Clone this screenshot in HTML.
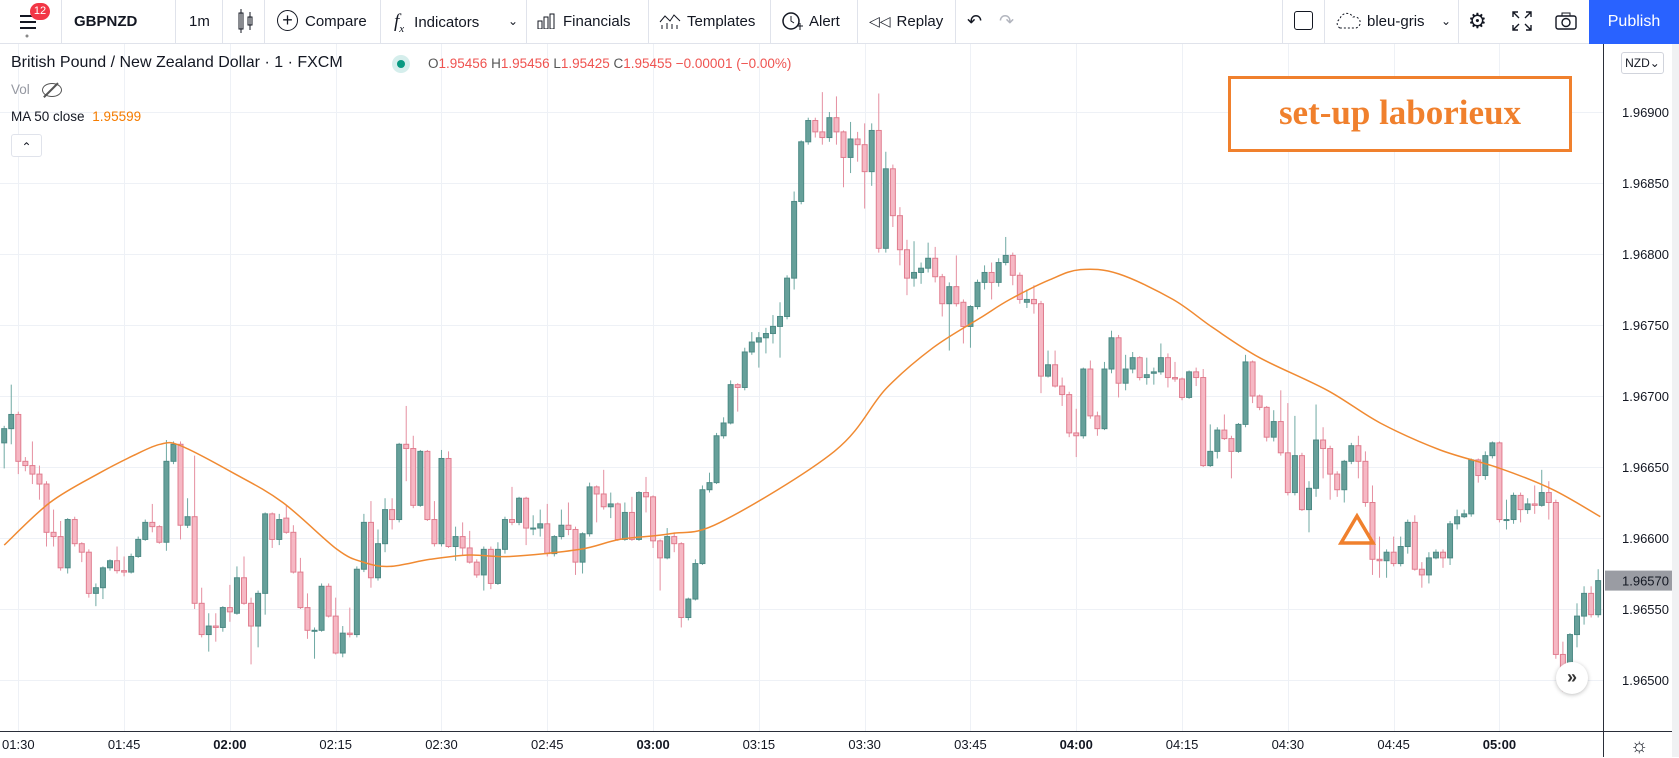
<!DOCTYPE html>
<html><head><meta charset="utf-8"><title>GBPNZD chart</title>
<style>
html,body{margin:0;padding:0;background:#fff;}
body{width:1679px;height:757px;position:relative;overflow:hidden;font-family:"Liberation Sans",sans-serif;color:#131722;}
.tb{position:absolute;left:0;top:0;width:1679px;height:44px;border-bottom:1px solid #e0e3eb;background:#fff;box-sizing:border-box;}
.ti{position:absolute;top:0;height:43px;line-height:43px;font-size:15px;color:#131722;white-space:nowrap;}
.sep{position:absolute;top:0;width:1px;height:43px;background:#e0e3eb;}
.leg{position:absolute;white-space:nowrap;}
svg text{font-family:"Liberation Sans",sans-serif;}
</style></head>
<body>
<div class="tb">
  <div class="ti" style="left:14px;width:34px;">
    <svg width="34" height="43"><rect x="6" y="15" width="16" height="2" fill="#131722"/><rect x="6" y="21" width="16" height="2" fill="#131722"/><rect x="6" y="27" width="16" height="2" fill="#131722"/><circle cx="13" cy="36" r="1.5" fill="#888"/></svg>
    <div style="position:absolute;left:16px;top:3px;width:20px;height:17px;border-radius:9px;background:#f23645;color:#fff;font-size:11px;line-height:17px;text-align:center;">12</div>
  </div>
  <div class="sep" style="left:61px"></div>
  <div class="ti" style="left:74px;font-weight:bold;">GBPNZD</div>
  <div class="sep" style="left:175px"></div>
  <div class="ti" style="left:189px;">1m</div>
  <div class="sep" style="left:222px"></div>
  <div class="ti" style="left:236px;">
    <svg width="20" height="43"><rect x="3" y="13" width="4" height="16" fill="none" stroke="#131722"/><line x1="5" y1="9" x2="5" y2="33" stroke="#131722"/><rect x="12" y="17" width="4" height="8" fill="none" stroke="#131722"/><line x1="14" y1="12" x2="14" y2="30" stroke="#131722"/></svg></div>
  <div class="sep" style="left:264px"></div>
  <div class="ti" style="left:277px;"><span style="display:inline-block;width:19px;height:19px;border:1.5px solid #131722;border-radius:50%;text-align:center;line-height:18px;font-size:18px;vertical-align:middle;margin-right:7px;margin-top:-3px;">+</span>Compare</div>
  <div class="sep" style="left:380px"></div>
  <div class="ti" style="left:394px;"><span style="font-family:'Liberation Serif',serif;font-style:italic;font-size:19px;margin-right:10px;">f<sub style="font-size:11px">x</sub></span>Indicators</div>
  <div class="ti" style="left:508px;font-size:12px;">&#8964;</div>
  <div class="sep" style="left:526px"></div>
  <div class="ti" style="left:537px;"><svg width="20" height="16" style="vertical-align:middle;margin-right:6px;margin-top:-3px"><rect x="1" y="8" width="4" height="8" fill="none" stroke="#131722"/><rect x="7" y="4" width="4" height="12" fill="none" stroke="#131722"/><rect x="13" y="1" width="4" height="15" fill="none" stroke="#131722"/></svg>Financials</div>
  <div class="sep" style="left:648px"></div>
  <div class="ti" style="left:659px;"><svg width="22" height="16" style="vertical-align:middle;margin-right:6px;margin-top:-3px"><polyline points="1,9 6,3 11,8 15,2 21,8" fill="none" stroke="#131722"/><line x1="3" y1="16" x2="3" y2="12" stroke="#131722"/><line x1="8" y1="16" x2="8" y2="10" stroke="#131722"/><line x1="13" y1="16" x2="13" y2="11" stroke="#131722"/><line x1="18" y1="16" x2="18" y2="12" stroke="#131722"/></svg>Templates</div>
  <div class="sep" style="left:770px"></div>
  <div class="ti" style="left:781px;"><svg width="22" height="22" style="vertical-align:middle;margin-right:6px;margin-top:-3px"><circle cx="10" cy="11" r="8" fill="none" stroke="#131722" stroke-width="1.5"/><polyline points="10,6 10,11 13,13" fill="none" stroke="#131722"/><line x1="16" y1="16" x2="22" y2="16" stroke="#131722"/><line x1="19" y1="13" x2="19" y2="20" stroke="#131722"/></svg>Alert</div>
  <div class="sep" style="left:857px"></div>
  <div class="ti" style="left:869px;"><span style="font-size:14px;margin-right:6px;">&#9665;&#9665;</span>Replay</div>
  <div class="sep" style="left:955px"></div>
  <div class="ti" style="left:967px;font-size:18px;">&#8630;</div>
  <div class="ti" style="left:999px;font-size:18px;color:#b2b5be;">&#8631;</div>
  <div class="sep" style="left:1282px"></div>
  <div class="ti" style="left:1294px;"><span style="display:inline-block;width:17px;height:17px;border:1.5px solid #131722;border-radius:3px;vertical-align:middle;margin-top:-3px"></span></div>
  <div class="sep" style="left:1324px"></div>
  <div class="ti" style="left:1334px;"><svg width="28" height="18" style="vertical-align:middle;margin-right:5px;margin-top:-3px"><path d="M6,16 a5,5 0 0 1 0,-9 a7,7 0 0 1 13,-2 a5,5 0 0 1 3,11 z" fill="none" stroke="#131722" stroke-dasharray="2,2"/></svg>bleu-gris</div>
  <div class="ti" style="left:1441px;font-size:12px;">&#8964;</div>
  <div class="sep" style="left:1458px"></div>
  <div class="ti" style="left:1468px;font-size:21px;">&#9881;</div>
  <div class="ti" style="left:1512px;"><svg width="20" height="20" style="vertical-align:middle;margin-top:-3px"><path d="M1,6V1H6M14,1H19V6M19,14V19H14M6,19H1V14M1,1L7,7M19,1L13,7M19,19L13,13M1,19L7,13" fill="none" stroke="#131722" stroke-width="1.4"/></svg></div>
  <div class="ti" style="left:1555px;"><svg width="22" height="18" style="vertical-align:middle;margin-top:-3px"><rect x="1" y="4" width="20" height="13" rx="2" fill="none" stroke="#131722" stroke-width="1.4"/><rect x="7" y="1" width="8" height="3" fill="none" stroke="#131722"/><circle cx="11" cy="10.5" r="4" fill="none" stroke="#131722" stroke-width="1.4"/></svg></div>
  <div style="position:absolute;left:1589px;top:0;width:90px;height:44px;background:#2962ff;color:#fff;font-size:16px;line-height:43px;text-align:center;">Publish</div>
</div>

<svg id="chart" width="1679" height="757" style="position:absolute;left:0;top:0;z-index:0"></svg>

<div class="leg" style="left:11px;top:54px;font-size:16px;color:#131722;">British Pound / New Zealand Dollar · 1 · FXCM</div>
<div class="leg" style="left:392px;top:55px;width:18px;height:18px;border-radius:50%;background:#d5eeec;"><div style="position:absolute;left:5px;top:5px;width:8px;height:8px;border-radius:50%;background:#089981;"></div></div>
<div class="leg" style="left:428px;top:56px;font-size:13.5px;color:#ef5350;"><span style="color:#555">O</span>1.95456 <span style="color:#555">H</span>1.95456 <span style="color:#555">L</span>1.95425 <span style="color:#555">C</span>1.95455 −0.00001 (−0.00%)</div>
<div class="leg" style="left:11px;top:82px;font-size:13.5px;color:#9598a1;">Vol <span style="position:relative;display:inline-block;width:18px;height:12px;margin-left:8px;border:1.5px solid #555;border-radius:50%;vertical-align:middle;"><span style="position:absolute;left:7px;top:-4px;width:1.5px;height:20px;background:#555;transform:rotate(45deg);"></span></span></div>
<div class="leg" style="left:11px;top:109px;font-size:13.5px;color:#131722;">MA 50 close <span style="color:#f57c00;margin-left:4px;">1.95599</span></div>
<div class="leg" style="left:11px;top:134px;width:29px;height:21px;border:1px solid #e0e3eb;border-radius:3px;background:#fff;text-align:center;font-size:12px;line-height:24px;">&#8963;</div>

<div style="position:absolute;left:1228px;top:76px;width:338px;height:70px;border:3px solid #f0802d;background:#fff;color:#f0802d;font-family:'Liberation Serif',serif;font-weight:bold;font-size:35px;line-height:68px;text-align:center;">set-up laborieux</div>

<div style="position:absolute;left:1621px;top:52px;width:41px;height:20px;border:1px solid #d1d4dc;border-radius:3px;font-size:12px;line-height:20px;text-align:center;color:#131722;background:#fff;">NZD&#8964;</div>
<div style="position:absolute;left:1556px;top:662px;width:32px;height:32px;border-radius:50%;background:#fff;box-shadow:0 1px 4px rgba(0,0,0,0.25);text-align:center;line-height:30px;font-size:18px;font-weight:bold;color:#333;">&#187;</div>
<div style="position:absolute;left:1630px;top:735px;font-size:20px;color:#131722;">&#9788;</div>

<script>
// Candle values in 1e-5 price units above PRICE_BASE (1.96000)
const PRICE_BASE = 1.96;
const UNIT = 0.00001;
const opens = [667,677,687,654,651,645,638,604,601,579,613,596,590,561,565,579,584,577,576,587,599,611,608,597,654,666,609,615,554,532,538,537,551,547,572,554,538,561,617,599,614,604,576,551,535,535,566,545,519,533,532,578,611,572,596,620,613,666,663,623,661,613,596,656,594,601,593,583,574,592,568,592,613,611,628,607,607,610,589,601,609,606,583,603,636,631,622,624,599,618,599,632,629,598,586,601,596,544,557,582,634,639,672,681,708,706,731,738,741,744,749,756,783,837,879,894,886,882,896,886,868,881,877,858,887,804,860,827,803,783,787,790,797,784,765,777,766,749,763,780,787,780,794,799,785,766,768,765,714,722,707,701,674,672,719,686,677,719,741,709,719,727,713,716,717,727,713,712,699,717,713,651,661,676,670,661,680,724,700,692,671,682,660,632,658,620,635,669,663,645,634,654,665,654,625,585,584,590,582,594,611,578,574,586,590,586,610,615,617,655,644,658,667,613,613,630,620,624,623,632,625,518,509,532,545,561,546];
const highs = [679,708,689,657,668,651,640,620,612,614,615,597,592,568,580,585,594,587,589,601,613,624,609,669,668,668,628,658,565,547,547,552,567,580,587,558,563,618,618,617,623,609,586,561,537,568,568,558,538,551,580,617,626,606,628,628,667,693,672,662,662,626,662,661,608,611,605,585,594,594,597,615,636,629,629,616,620,624,602,620,625,608,604,639,637,648,632,625,625,629,633,643,630,599,607,604,597,558,585,637,646,674,685,711,709,734,745,745,748,757,766,785,844,880,896,896,914,900,911,887,893,886,892,892,913,872,863,833,810,809,794,808,805,786,780,799,768,764,782,792,794,797,812,801,787,775,778,767,732,732,713,703,691,720,725,689,724,746,743,729,731,728,727,720,737,730,724,713,718,720,719,680,678,687,672,681,729,725,701,693,690,704,695,686,660,640,694,678,665,647,655,667,672,661,637,601,592,601,601,613,616,583,590,592,592,612,620,620,656,656,661,668,668,627,632,632,628,637,648,640,627,527,533,554,566,566,578];
const lows = [649,666,645,647,638,627,594,594,577,575,594,583,558,552,557,577,575,573,575,586,598,604,596,591,652,599,607,550,530,520,527,534,541,546,553,511,523,546,593,595,603,575,550,529,515,534,544,518,516,530,530,576,565,570,590,606,611,640,621,622,612,594,594,593,584,588,582,572,563,564,567,589,609,609,595,602,601,587,587,599,602,574,575,601,611,620,614,598,598,598,598,618,593,563,585,590,537,542,556,581,632,638,670,680,689,704,729,720,730,737,727,754,775,835,877,882,877,879,877,847,857,865,832,848,801,801,819,792,771,777,779,787,780,756,732,763,737,734,761,775,768,777,792,778,765,762,758,702,713,706,693,671,657,670,684,672,676,716,699,704,716,711,708,708,715,706,710,697,698,707,650,650,656,669,642,660,678,695,690,668,668,658,630,630,619,604,629,642,627,629,625,652,642,622,574,572,572,580,580,589,577,565,568,585,579,581,606,614,615,639,641,656,611,606,610,611,617,617,622,613,515,492,508,523,539,544,544];
const closes = [677,687,654,651,645,638,604,601,579,613,596,590,561,565,579,584,577,576,587,599,611,608,597,654,666,609,615,554,532,538,537,551,548,572,554,538,561,617,599,613,604,576,551,535,535,566,545,519,533,532,578,611,572,596,620,613,666,663,623,661,613,596,656,594,601,593,583,574,592,568,592,613,611,628,607,607,610,589,601,609,606,583,603,636,631,622,624,599,618,599,632,629,598,586,601,596,544,557,582,634,639,672,681,708,706,731,738,741,744,749,756,783,837,879,894,886,882,896,886,868,881,877,858,887,804,860,827,803,783,787,790,797,784,765,777,765,749,763,780,787,780,794,799,785,768,768,765,714,722,707,701,674,672,719,686,677,719,741,709,719,727,713,715,717,727,713,712,699,717,713,651,661,676,670,661,680,724,700,692,671,682,660,632,658,620,635,669,663,645,634,654,665,654,625,585,584,590,582,594,611,578,574,586,590,586,610,615,617,655,644,658,667,613,613,630,620,624,623,632,625,518,509,532,545,561,546,570];
// MA(50): candle index and value
const maIdx = [0,6.5,13.6,18.3,22.1,25,32.4,39.5,47.2,50.9,54.7,60.4,66,71.7,81.6,87.3,94.4,101.5,117.7,125,131.7,138.4,142.6,148.3,152.6,158,165.7,171.4,178,187.6,195.1,203.6,212.1,219.6,226.3];
const maVal = [595,625,646,658,666,665,646,625,592,583,580,585,588,587,592,599,603,611,661,705,734,755,768,782,789,786,768,748,727,704,681,662,649,634,615];
const priceTicks = [1.965,1.9655,1.966,1.9665,1.967,1.9675,1.968,1.9685,1.969];
const priceTickLabels = ["1.96500","1.96550","1.96600","1.96650","1.96700","1.96750","1.96800","1.96850","1.96900"];
const timeLabels = ["01:30","01:45","02:00","02:15","02:30","02:45","03:00","03:15","03:30","03:45","04:00","04:15","04:30","04:45","05:00"];
const timeLabelIdx = [2,17,32,47,62,77,92,107,122,137,152,167,182,197,212];
const lastPrice = 1.9657;
const lastPriceLabel = "1.96570";

const NS = "http://www.w3.org/2000/svg";
const svg = document.getElementById("chart");
const PLOT_R = 1603, PLOT_T = 44, PLOT_B = 731;
function xOf(i){ return 18.3 + (i - 2) * 7.053; }
function yOf(p){ return 538 - (p - 1.966) * 142000; }
function pv(v){ return PRICE_BASE + v * UNIT; }
function mk(tag, attrs){ const e = document.createElementNS(NS, tag); for (const k in attrs) e.setAttribute(k, attrs[k]); return e; }

const defs = mk("defs", {});
const cp = mk("clipPath", {id:"plotclip"});
cp.appendChild(mk("rect", {x:0, y:PLOT_T, width:PLOT_R, height:PLOT_B - PLOT_T}));
defs.appendChild(cp);
svg.appendChild(defs);

const grid = mk("g", {});


svg.appendChild(grid);
priceTicks.forEach(function(p){
  const y = Math.round(yOf(p)) + 0.5;
  const l = mk("line", {x1:0, x2:PLOT_R, y1:y, y2:y, stroke:"#eef1f6", "stroke-width":1});
  
  
  grid.appendChild(l);
});
timeLabelIdx.forEach(function(i){
  const x = Math.round(xOf(i)) + 0.5;
  const l = mk("line", {x1:x, x2:x, y1:PLOT_T, y2:PLOT_B, stroke:"#eef1f6", "stroke-width":1});
  
  
  grid.appendChild(l);
});

const plot = mk("g", {"clip-path":"url(#plotclip)"});


svg.appendChild(plot);
for (let i = 0; i < closes.length; i++) {
  const o = pv(opens[i]), c = pv(closes[i]), h = pv(highs[i]), lo = pv(lows[i]);
  const up = c >= o;
  const stroke = up ? "#4d8a85" : "#e07d8f";
  const fill = up ? "#66a09a" : "#f6b8c4";
  const wick = up ? "#6fa9a3" : "#e58fa0";
  const x = xOf(i);
  const g = mk("g", {});
  
  
  g.appendChild(mk("line", {x1:x, x2:x, y1:yOf(h), y2:yOf(lo), stroke:wick, "stroke-width":1}));
  const yt = yOf(Math.max(o, c)), yb = yOf(Math.min(o, c));
  g.appendChild(mk("rect", {x:x - 2.5, y:yt, width:5, height:Math.max(1, yb - yt), fill:fill, stroke:stroke, "stroke-width":1}));
  plot.appendChild(g);
}

// smooth MA path (Catmull-Rom through sampled points)
const pts = maIdx.map(function(i, k){ return [xOf(i), yOf(pv(maVal[k]))]; });
let d = "M" + pts[0][0].toFixed(1) + "," + pts[0][1].toFixed(1);
for (let k = 0; k < pts.length - 1; k++) {
  const p0 = pts[Math.max(0, k - 1)], p1 = pts[k], p2 = pts[k + 1], p3 = pts[Math.min(pts.length - 1, k + 2)];
  const c1x = p1[0] + (p2[0] - p0[0]) / 6, c1y = p1[1] + (p2[1] - p0[1]) / 6;
  const c2x = p2[0] - (p3[0] - p1[0]) / 6, c2y = p2[1] - (p3[1] - p1[1]) / 6;
  d += "C" + c1x.toFixed(1) + "," + c1y.toFixed(1) + " " + c2x.toFixed(1) + "," + c2y.toFixed(1) + " " + p2[0].toFixed(1) + "," + p2[1].toFixed(1);
}
const ma = mk("path", {d:d, fill:"none", stroke:"#f08a32", "stroke-width":1.5, "clip-path":"url(#plotclip)"});


svg.appendChild(ma);

const tri = mk("polygon", {points:"1357,516 1341,543 1373,543", fill:"none", stroke:"#f0802d", "stroke-width":3.5, "stroke-linejoin":"miter"});


svg.appendChild(tri);

// axes
const pax = mk("line", {x1:PLOT_R + 0.5, x2:PLOT_R + 0.5, y1:PLOT_T, y2:757, stroke:"#2a2e39", "stroke-width":1});


svg.appendChild(pax);
const tax = mk("line", {x1:0, x2:1672, y1:PLOT_B + 0.5, y2:PLOT_B + 0.5, stroke:"#2a2e39", "stroke-width":1});


svg.appendChild(tax);
const strip = mk("rect", {x:1672, y:PLOT_T, width:7, height:757 - PLOT_T, fill:"#f0f1f3"});


svg.appendChild(strip);

priceTicks.forEach(function(p, k){
  const t = mk("text", {x:1622, y:yOf(p) + 5, "font-size":13, fill:"#131722"});
  t.textContent = priceTickLabels[k];
  
  
  svg.appendChild(t);
});
const ly = yOf(lastPrice);
const lbg = mk("rect", {x:1605, y:ly - 10, width:67, height:20, fill:"#9a9ca3"});


svg.appendChild(lbg);
const lt = mk("text", {x:1622, y:ly + 5, "font-size":13, fill:"#131722"});
lt.textContent = lastPriceLabel;


svg.appendChild(lt);

timeLabels.forEach(function(s, k){
  const t = mk("text", {x:xOf(timeLabelIdx[k]), y:749, "font-size":13, fill:"#131722", "text-anchor":"middle", "font-weight":(s.slice(3) === "00" ? "bold" : "normal")});
  t.textContent = s;
  
  
  svg.appendChild(t);
});
</script>
</body></html>
